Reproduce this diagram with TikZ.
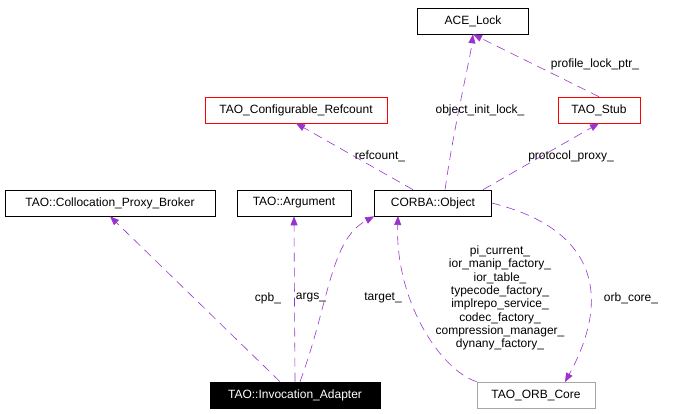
\documentclass[tikz,border=0pt]{standalone}
\usepackage{fontspec}
\setmainfont{Liberation Sans}
\usetikzlibrary{arrows.meta}
\definecolor{edge}{RGB}{154,50,205}
\begin{document}
\begin{tikzpicture}[x=1pt,y=-1pt,
  box/.style={draw=black,fill=white,minimum height=26pt,inner xsep=3pt,font=\fontsize{12}{13.3}\selectfont,line width=0.6pt},
  redbox/.style={box,draw=red},
  graybox/.style={box,draw=gray!70},
  sel/.style={box,fill=black,text=white},
  e/.style={draw=edge,line width=0.6pt,dash pattern=on 9pt off 6pt,-{Triangle[length=9pt,width=7pt,fill=edge]}},
  lab/.style={font=\fontsize{12}{13.3}\selectfont,align=center}]
\useasboundingbox (0,0) rectangle (676,413);
\node[box,minimum width=111pt] (ace) at (473,21) {ACE\_Lock};
\node[box,draw=red,minimum width=182pt] (ref) at (296,110) {TAO\_Configurable\_Refcount};
\node[box,draw=red,minimum width=82pt] (stub) at (599,110) {TAO\_Stub};
\node[box,minimum width=210pt] (cpb) at (110,203) {TAO::Collocation\_Proxy\_Broker};
\node[box,minimum width=114pt] (arg) at (294,203) {TAO::Argument};
\node[box,minimum width=117pt] (obj) at (433,203) {CORBA::Object};
\node[sel,minimum width=170pt] (ia) at (295,395) {TAO::Invocation\_Adapter};
\node[graybox,minimum width=118pt] (orb) at (536,395) {TAO\_ORB\_Core};
\draw[e] (ia.north) ++(-15,0) -- (cpb.south);
\draw[e] (ia.north) -- (arg.south);
\draw[e] (ia.north) ++(5,0) .. controls (330,300) and (330,240) .. (obj.south west);
\draw[e] (orb.north west) .. controls (440,370) and (395,300) .. (398,216);
\draw[e] (obj.east) .. controls (600,230) and (610,300) .. (565,382);
\draw[e] (obj.north) ++(-20,0) -- (ref.south);
\draw[e] (obj.north) ++(50,0) -- (stub.south);
\draw[e] (obj.north) ++(12,0) .. controls (455,120) and (470,60) .. (ace.south);
\draw[e] (stub.north) -- (ace.south);
\node[lab] (l1) at (268,298) {cpb\_};
\node[lab] (l2) at (311,298) {args\_};
\node[lab] (l3) at (383,298) {target\_};
\node[lab] (l4) at (500,298) {pi\_current\_\\ior\_manip\_factory\_\\ior\_table\_\\typecode\_factory\_\\implrepo\_service\_\\codec\_factory\_\\compression\_manager\_\\dynany\_factory\_};
\node[lab] (l5) at (631,298) {orb\_core\_};
\node[lab] (l6) at (380,156) {refcount\_};
\node[lab] (l7) at (571,156) {protocol\_proxy\_};
\node[lab] (l8) at (480,110) {object\_init\_lock\_};
\node[lab] (l9) at (595,64) {profile\_lock\_ptr\_};
\end{tikzpicture}
\end{document}
